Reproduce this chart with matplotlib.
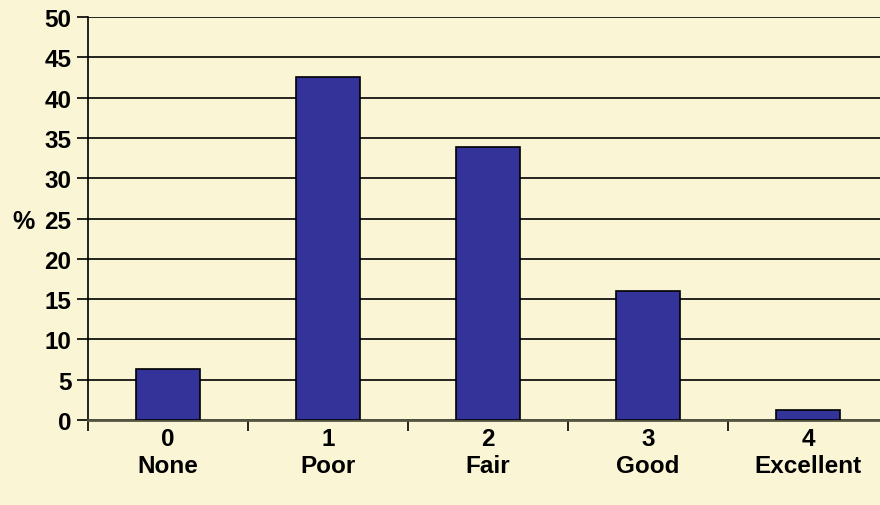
import numpy as np
import matplotlib.pyplot as plt

# Data
scores = ['0', '1', '2', '3', '4']
ratings = ['None', 'Poor', 'Fair', 'Good', 'Excellent']
percent = [6.3, 42.6, 33.9, 16.0, 1.2]

bg = '#F9F5D5'
plt.rcParams['font.family'] = ['Liberation Sans', 'DejaVu Sans']
plt.rcParams['font.weight'] = 'bold'

fig = plt.figure(figsize=(8.8, 5.06), dpi=100, facecolor=bg)
ax = fig.add_axes([0.1, 0.168, 0.9, 0.796], facecolor=bg)

x = np.arange(len(scores))
ax.bar(x, percent, width=0.4, color='#333399', edgecolor='black', linewidth=1.2, zorder=3)

ax.set_ylim(0, 50)
ax.set_xlim(-0.5, 4.45)
ax.set_yticks(np.arange(0, 51, 5))
ax.yaxis.grid(True, color='black', linewidth=1.2, zorder=0)

# category labels between boundary ticks
ax.set_xticks(x)
ax.set_xticklabels([s + '\n' + r for s, r in zip(scores, ratings)],
                   fontsize=17.5, fontweight='bold', linespacing=1.25)
ax.tick_params(axis='x', which='major', length=0, pad=5)
ax.set_xticks(np.arange(-0.5, 4.5, 1), minor=True)
ax.tick_params(axis='x', which='minor', length=8, width=1.2, direction='out', color='black')
ax.tick_params(axis='y', length=8, width=1.2, direction='out', labelsize=17.5, pad=4)
for lbl in ax.get_yticklabels():
    lbl.set_fontweight('bold')

ax.spines['top'].set_visible(False)
ax.spines['right'].set_visible(False)
ax.spines['bottom'].set_color('#555544')
ax.spines['bottom'].set_linewidth(2)
ax.spines['left'].set_linewidth(1.2)

ax.set_ylabel('%', fontsize=18, fontweight='bold', rotation=0)
ax.yaxis.set_label_coords(-0.082, 0.465)

fig.savefig('out.png', dpi=100, facecolor=bg)
